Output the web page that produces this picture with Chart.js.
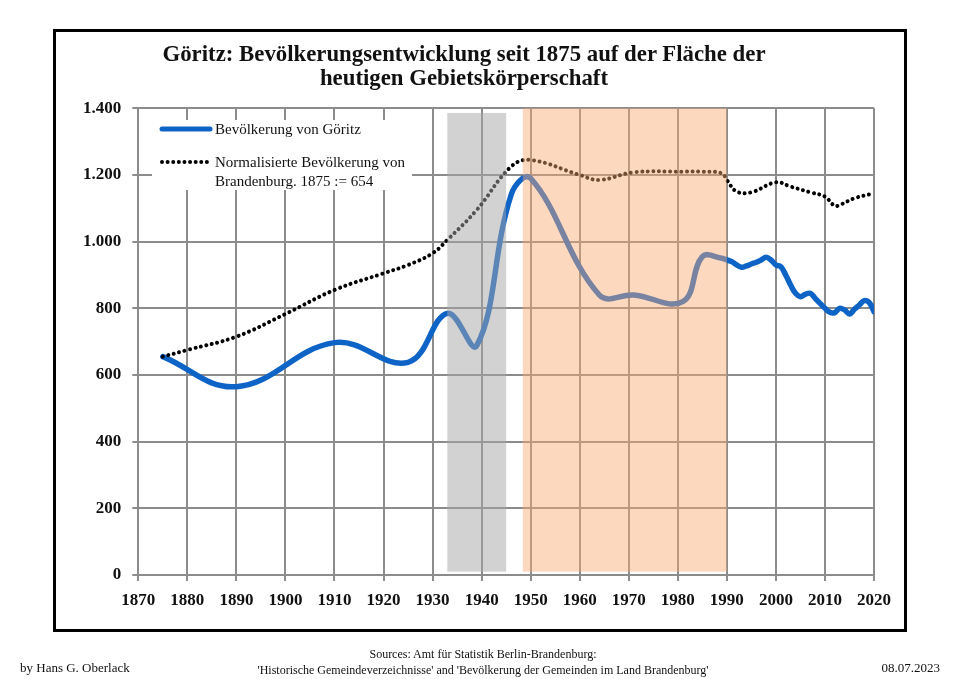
<!DOCTYPE html>
<html lang="de">
<head>
<meta charset="utf-8">
<title>Göritz: Bevölkerungsentwicklung</title>
<script src="https://cdn.jsdelivr.net/npm/chart.js@4.4.1/dist/chart.umd.min.js"></script>
<style>
    html, body { margin: 0; padding: 0; background: #fff; }
    body { width: 960px; height: 679px; position: relative; overflow: hidden; font-family: "Liberation Serif", serif; color: #111; }
    #rahmen { position: absolute; left: 53px; top: 29px; width: 854px; height: 603px; border: 3px solid #000; box-sizing: border-box; }
    #chart { position: absolute; left: 0; top: 0; }
    .titel { position: absolute; left: 0; width: 928px; text-align: center; font-weight: bold; font-size: 22.8px; }
    .fuss { position: absolute; font-size: 13px; }
    .quelle { position: absolute; left: 0; width: 966px; text-align: center; font-size: 12px; }
</style>
</head>
<body>
<div id="rahmen"></div>
<canvas id="chart" width="960" height="679"></canvas>
<div class="titel" style="top:41px">Göritz: Bevölkerungsentwicklung seit 1875 auf der Fläche der</div>
<div class="titel" style="top:65px">heutigen Gebietskörperschaft</div>
<div class="quelle" style="top:647px">Sources: Amt für Statistik Berlin-Brandenburg:</div>
<div class="quelle" style="top:663px">'Historische Gemeindeverzeichnisse' and 'Bevölkerung der Gemeinden im Land Brandenburg'</div>
<div class="fuss" style="left:20px; top:660px">by Hans G. Oberlack</div>
<div class="fuss" style="right:20px; top:660px">08.07.2023</div>
<script>
/* ===========================
   DATEN
=========================== */
const goeritzJahre = [1875, 1890, 1910, 1925, 1933, 1939, 1946, 1950, 1964, 1971, 1981, 1985, 1989,
    1990, 1991, 1992, 1993, 1994, 1995, 1996, 1997, 1998, 1999, 2000, 2001, 2002, 2003, 2004, 2005,
    2006, 2007, 2008, 2009, 2010, 2011, 2012, 2013, 2014, 2015, 2016, 2017, 2018, 2019, 2020];
const goeritzWerte = [655, 565, 697, 638, 785, 688, 1140, 1190, 840, 840, 820, 955, 950,
    945, 940, 930, 923, 927, 933, 938, 945, 953, 945, 930, 925, 900, 870, 845, 835,
    842, 845, 830, 815, 800, 788, 787, 800, 795, 783, 797, 810, 823, 818, 790];

const brbJahre = [1875, 1880, 1890, 1900, 1910, 1920, 1925, 1930, 1933, 1939, 1946, 1950, 1960, 1964,
    1971, 1981, 1985, 1989, 1990, 1992, 1995, 2000, 2003, 2007, 2010, 2012, 2013, 2016, 2020];
const brbWerte = [655, 675, 715, 783, 855, 905, 930, 965, 1005, 1095, 1225, 1245, 1200, 1185,
    1208, 1210, 1210, 1205, 1185, 1150, 1148, 1178, 1165, 1148, 1135, 1107, 1110, 1130, 1145];

const xTicks = [1870, 2020, 10];      // min, max, Schritt
const yTicks = [0, 1400, 200];

// Zeitraeume fuer die Hinterlegung
const periodeNS = [1933, 1945];
const periodeDDR = [1948.4, 1990];

const legendeTexte = ["Bevölkerung von Göritz", "Normalisierte Bevölkerung von", "Brandenburg. 1875 := 654"];

const BLAU = "#0e64c6";
const GRID = "#8c8c8c";
const PUNKTE = [0.01, 5.6];

/* ===========================
   PLUGIN: Hinterlegung + Legende
=========================== */
const hinterlegung = {
    id: "hinterlegung",
    afterDatasetsDraw(chart) {
        const { ctx, scales: { x, y } } = chart;
        ctx.save();

        const unten = y.getPixelForValue(10);
        ctx.fillStyle = "rgba(165,165,165,0.5)";
        let x0 = x.getPixelForValue(periodeNS[0]), x1 = x.getPixelForValue(periodeNS[1]);
        let oben = y.getPixelForValue(1386);
        ctx.fillRect(x0, oben, x1 - x0, unten - oben);

        ctx.fillStyle = "rgba(249,168,112,0.45)";
        x0 = x.getPixelForValue(periodeDDR[0]);
        x1 = x.getPixelForValue(periodeDDR[1]);
        oben = y.getPixelForValue(1400);
        ctx.fillRect(x0, oben, x1 - x0, unten - oben);

        // Legende
        ctx.fillStyle = "#fff";
        ctx.fillRect(152, 120, 260, 70);

        ctx.lineCap = "round";
        ctx.strokeStyle = BLAU;
        ctx.lineWidth = 5;
        ctx.beginPath();
        ctx.moveTo(162, 129);
        ctx.lineTo(210, 129);
        ctx.stroke();

        ctx.strokeStyle = "#000";
        ctx.lineWidth = 4;
        ctx.setLineDash(PUNKTE);
        ctx.beginPath();
        ctx.moveTo(162, 162);
        ctx.lineTo(211, 162);
        ctx.stroke();
        ctx.setLineDash([]);

        ctx.fillStyle = "#111";
        ctx.font = "15px 'Liberation Serif', serif";
        ctx.textBaseline = "middle";
        ctx.fillText(legendeTexte[0], 215, 130);
        ctx.fillText(legendeTexte[1], 215, 163);
        ctx.fillText(legendeTexte[2], 215, 182);
        ctx.restore();
    }
};

/* ===========================
   CHART
=========================== */
const tickFont = { family: "'Liberation Serif', serif", size: 17, weight: "bold" };

new Chart(document.getElementById("chart"), {
    type: "line",
    data: {
        datasets: [
            {
                label: legendeTexte[1] + " " + legendeTexte[2],
                data: brbJahre.map((j, i) => ({ x: j, y: brbWerte[i] })),
                borderColor: "#000",
                borderWidth: 4,
                borderDash: PUNKTE,
                borderCapStyle: "round",
                pointRadius: 0,
                tension: 0.4,
                order: 0
            },
            {
                label: legendeTexte[0],
                data: goeritzJahre.map((j, i) => ({ x: j, y: goeritzWerte[i] })),
                borderColor: BLAU,
                borderWidth: 5.5,
                borderCapStyle: "round",
                borderJoinStyle: "round",
                pointRadius: 0,
                tension: 0.4,
                order: 1
            }
        ]
    },
    options: {
        responsive: false,
        animation: false,
        devicePixelRatio: 1,
        layout: { padding: { left: 60.3, right: 86, top: 108.3, bottom: 64 } },
        plugins: {
            legend: { display: false },
            tooltip: { enabled: false }
        },
        scales: {
            x: {
                type: "linear",
                min: xTicks[0],
                max: xTicks[1],
                afterFit: s => { s.height = 40; },
                ticks: {
                    stepSize: xTicks[2],
                    color: "#111",
                    font: tickFont,
                    padding: 9,
                    maxRotation: 0,
                    callback: v => String(v)
                },
                grid: { color: GRID, lineWidth: 2, tickLength: 6 },
                border: { color: GRID, width: 2 }
            },
            y: {
                min: yTicks[0],
                max: yTicks[1],
                afterFit: s => { s.width = 78; },
                ticks: {
                    stepSize: yTicks[2],
                    color: "#111",
                    font: tickFont,
                    padding: 11,
                    callback: v => v.toLocaleString("de-DE")
                },
                grid: { color: GRID, lineWidth: 2, tickLength: 6 },
                border: { color: GRID, width: 2 }
            }
        }
    },
    plugins: [hinterlegung]
});
</script>
</body>
</html>
